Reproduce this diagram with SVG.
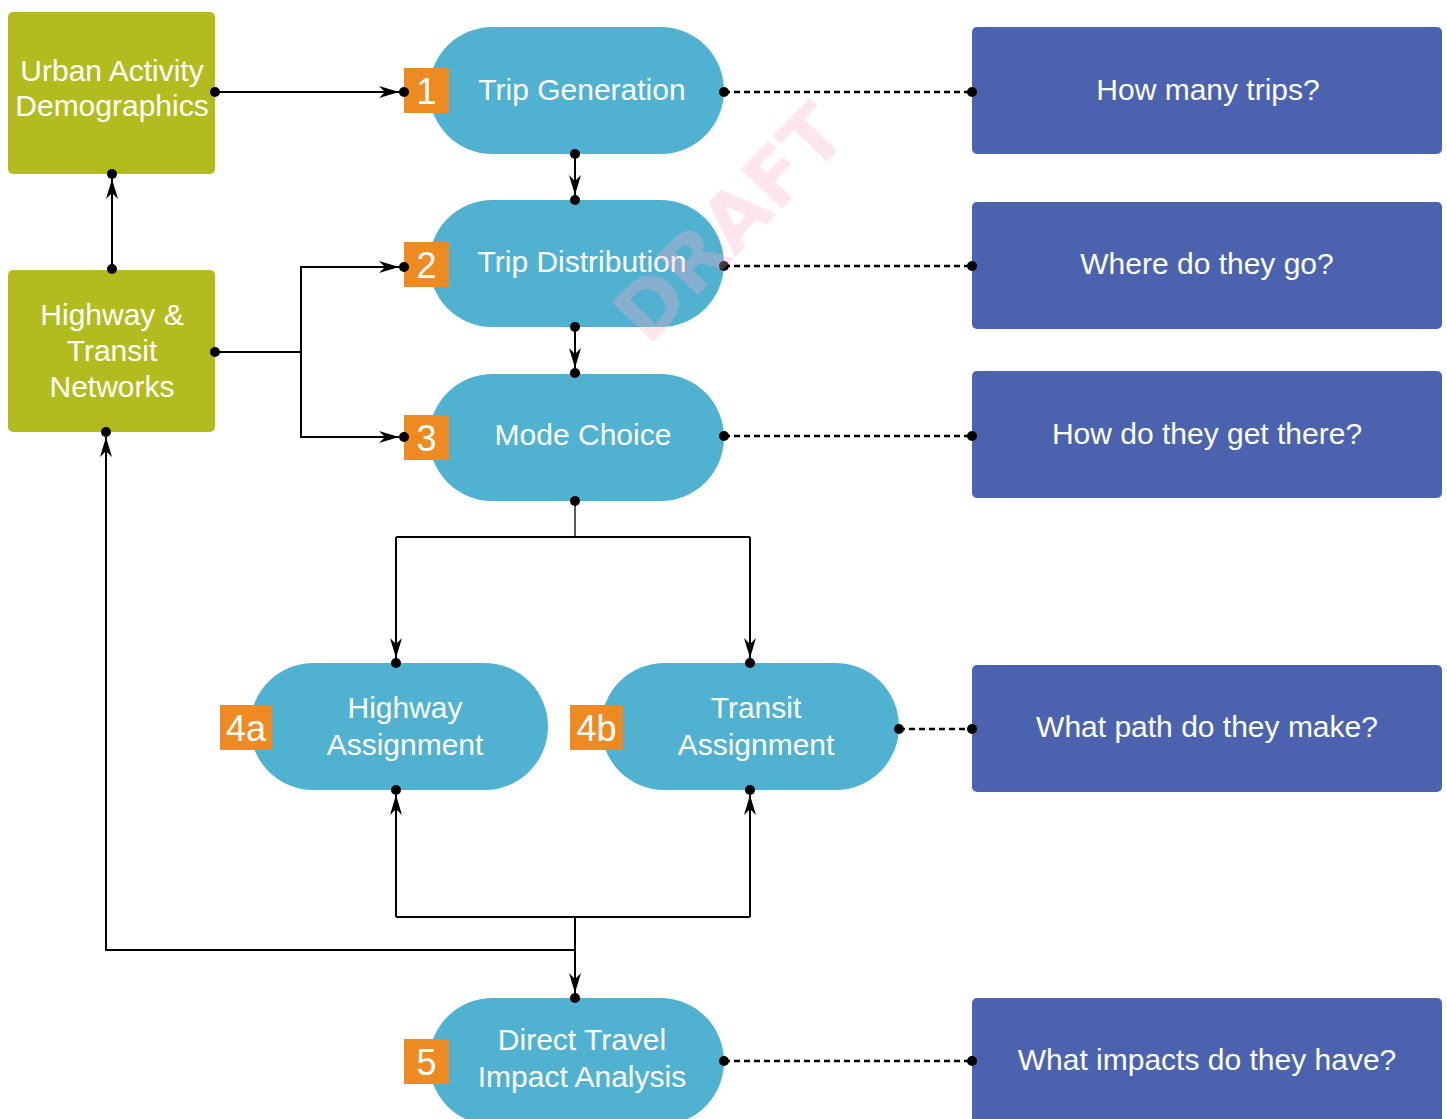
<svg xmlns="http://www.w3.org/2000/svg" width="1447" height="1119" viewBox="0 0 1447 1119">
<defs>
<style>
.green{fill:#b3bc1f}
.pill{fill:#50b2d0}
.badge{fill:#ee8a22}
.q{fill:#4b63ae}
.t{font-family:"Liberation Sans",Arial,sans-serif;font-size:30px;fill:#ffffff;text-anchor:middle}
.n{font-family:"Liberation Sans",Arial,sans-serif;font-size:36px;fill:#ffffff;text-anchor:middle}
.ln{fill:none;stroke:#000;stroke-width:2}
.thin{fill:none;stroke:#000;stroke-width:1.3}
.dash{fill:none;stroke:#000;stroke-width:2.5;stroke-dasharray:6 4}
.dot{fill:#000}
.wm{font-family:"DejaVu Sans",sans-serif;font-weight:bold;font-size:78px;fill:#ffaac8;opacity:0.3}
</style>
<marker id="arr" viewBox="-21 -7 22 14" markerWidth="22" markerHeight="14" refX="0" refY="0" orient="auto" markerUnits="userSpaceOnUse">
<path d="M0,0 L-20,-6 L-14,0 L-20,6 Z" fill="#000"/>
</marker>
</defs>
<rect width="1447" height="1119" fill="#ffffff"/>

<g id="urban-activity">
<rect class="green" x="8" y="12" width="207" height="162" rx="5"/>
<text class="t" x="112" y="81">Urban Activity</text>
<text class="t" x="112" y="116">Demographics</text>
</g>
<g id="networks">
<rect class="green" x="8" y="270" width="207" height="162" rx="5"/>
<text class="t" x="112" y="325">Highway &amp;</text>
<text class="t" x="112" y="361">Transit</text>
<text class="t" x="112" y="397">Networks</text>
</g>

<g id="trip-generation">
<rect class="pill" x="429" y="27" width="295" height="127" rx="63.5"/>
<text class="t" x="582" y="100">Trip Generation</text>
<rect class="badge" x="404" y="68" width="45" height="45"/>
<text class="n" x="426.5" y="104">1</text>
</g>
<g id="trip-distribution">
<rect class="pill" x="429" y="200" width="295" height="127" rx="63.5"/>
<text class="t" x="582" y="272">Trip Distribution</text>
<rect class="badge" x="404" y="242" width="45" height="45"/>
<text class="n" x="426.5" y="278">2</text>
</g>
<g id="mode-choice">
<rect class="pill" x="429" y="374" width="295" height="127" rx="63.5"/>
<text class="t" x="583" y="445">Mode Choice</text>
<rect class="badge" x="404" y="415" width="45" height="45"/>
<text class="n" x="426.5" y="451">3</text>
</g>
<g id="highway-assignment">
<rect class="pill" x="250" y="663" width="298" height="127" rx="63.5"/>
<text class="t" x="405" y="718">Highway</text>
<text class="t" x="405" y="755">Assignment</text>
<rect class="badge" x="220" y="705" width="52" height="45"/>
<text class="n" x="246" y="741">4a</text>
</g>
<g id="transit-assignment">
<rect class="pill" x="601" y="663" width="298" height="127" rx="63.5"/>
<text class="t" x="756" y="718">Transit</text>
<text class="t" x="756" y="755">Assignment</text>
<rect class="badge" x="570" y="705" width="53" height="45"/>
<text class="n" x="596.5" y="741">4b</text>
</g>
<g id="impact-analysis">
<rect class="pill" x="429" y="998" width="295" height="127" rx="63.5"/>
<text class="t" x="582" y="1050">Direct Travel</text>
<text class="t" x="582" y="1087">Impact Analysis</text>
<rect class="badge" x="404" y="1039" width="45" height="45"/>
<text class="n" x="426.5" y="1075">5</text>
</g>

<g id="q-trips">
<rect class="q" x="972" y="27" width="470" height="127" rx="5"/>
<text class="t" x="1208" y="100">How many trips?</text>
</g>
<g id="q-where">
<rect class="q" x="972" y="202" width="470" height="127" rx="5"/>
<text class="t" x="1207" y="274">Where do they go?</text>
</g>
<g id="q-how">
<rect class="q" x="972" y="371" width="470" height="127" rx="5"/>
<text class="t" x="1207" y="444">How do they get there?</text>
</g>
<g id="q-path">
<rect class="q" x="972" y="665" width="470" height="127" rx="5"/>
<text class="t" x="1207" y="737">What path do they make?</text>
</g>
<g id="q-impacts">
<rect class="q" x="972" y="998" width="470" height="130" rx="5"/>
<text class="t" x="1207" y="1070">What impacts do they have?</text>
</g>

<g id="connectors">
<path class="ln" d="M215,92 H399" marker-end="url(#arr)"/>
<path class="ln" d="M112,269 V179" marker-end="url(#arr)"/>
<path class="ln" d="M215,352 H301 V267 H399" marker-end="url(#arr)"/>
<path class="ln" d="M301,352 V437 H399" marker-end="url(#arr)"/>
<path class="ln" d="M575,154 V195" marker-end="url(#arr)"/>
<path class="ln" d="M575,327 V368" marker-end="url(#arr)"/>
<path class="thin" d="M575,501 V537"/>
<path class="ln" d="M396,537 H750"/>
<path class="ln" d="M396,537 V658" marker-end="url(#arr)"/>
<path class="ln" d="M750,537 V658" marker-end="url(#arr)"/>
<path class="ln" d="M396,917 H750"/>
<path class="ln" d="M396,917 V795" marker-end="url(#arr)"/>
<path class="ln" d="M750,917 V795" marker-end="url(#arr)"/>
<path class="ln" d="M575,917 V993" marker-end="url(#arr)"/>
<path class="ln" d="M575,950 H106 V437" marker-end="url(#arr)"/>
<path class="dash" d="M724,92 H972"/>
<path class="dash" d="M724,266 H972"/>
<path class="dash" d="M724,436 H972"/>
<path class="dash" d="M899,729 H972"/>
<path class="dash" d="M724,1061 H972"/>
<g class="dot">
<circle cx="215" cy="92" r="5"/><circle cx="404" cy="92" r="5"/>
<circle cx="112" cy="269" r="5"/><circle cx="112" cy="174" r="5"/>
<circle cx="215" cy="352" r="5"/><circle cx="404" cy="267" r="5"/><circle cx="404" cy="437" r="5"/>
<circle cx="575" cy="154" r="5"/><circle cx="575" cy="200" r="5"/>
<circle cx="575" cy="327" r="5"/><circle cx="575" cy="373" r="5"/>
<circle cx="575" cy="501" r="5"/><circle cx="396" cy="663" r="5"/><circle cx="750" cy="663" r="5"/>
<circle cx="396" cy="790" r="5"/><circle cx="750" cy="790" r="5"/><circle cx="575" cy="998" r="5"/><circle cx="106" cy="432" r="5"/>
<circle cx="724" cy="92" r="5"/><circle cx="972" cy="92" r="5"/>
<circle cx="724" cy="266" r="5"/><circle cx="972" cy="266" r="5"/>
<circle cx="724" cy="436" r="5"/><circle cx="972" cy="436" r="5"/>
<circle cx="899" cy="729" r="5"/><circle cx="972" cy="729" r="5"/>
<circle cx="724" cy="1061" r="5"/><circle cx="972" cy="1061" r="5"/>
</g>
</g>

<text class="wm" transform="translate(648,347) rotate(-46)">DRAFT</text>
</svg>
